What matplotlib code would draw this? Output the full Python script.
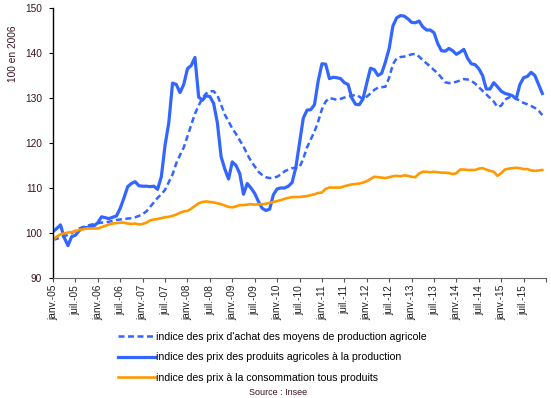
import matplotlib
matplotlib.use("Agg")
import matplotlib.pyplot as plt

plt.rcParams['font.family'] = ['Liberation Sans', 'DejaVu Sans']

# monthly indices, janv. 2005 -> déc. 2015 (base 100 en 2006)
achat = [98.5, 98.7, 99.0, 99.3, 99.6, 100.0, 100.5, 101.0, 101.3, 101.6, 101.8, 102.0,
         102.2, 102.3, 102.4, 102.5, 102.7, 102.9, 103.0, 103.1, 103.2, 103.3, 103.5, 103.8,
         104.2, 104.8, 105.8, 106.8, 107.8, 108.6, 109.6, 111.3, 113.0, 115.5, 117.3, 119.0,
         121.5, 124.0, 126.5, 128.3, 130.0, 131.0, 131.5, 131.5, 130.6, 128.5, 126.3, 124.8,
         123.2, 122.0, 120.6, 119.2, 117.5, 116.0, 114.8, 113.6, 112.9, 112.4, 112.2, 112.3,
         112.5, 113.0, 113.7, 114.1, 114.4, 114.5, 114.6, 116.5, 119.0, 120.8, 122.5, 124.8,
         127.5, 129.2, 130.0, 129.8, 129.6, 129.8, 130.1, 130.3, 130.5, 130.7, 130.3, 129.7,
         130.3, 131.0, 131.8, 132.3, 132.4, 132.5, 134.5, 137.5, 138.8, 139.1, 139.2, 139.4,
         139.7, 139.8, 139.2, 138.4, 137.7, 137.0, 136.2, 135.5, 134.5, 133.5, 133.3, 133.4,
         133.6, 133.9, 134.2, 134.1, 133.8, 133.2, 132.4, 131.6, 130.8, 130.0, 129.2, 128.0,
         128.3, 129.6, 130.1, 130.3, 129.9, 129.3, 128.9, 128.6, 128.2, 127.8, 127.2, 126.2]

produits = [100.3, 101.0, 101.8, 99.0, 97.2, 99.2, 99.5, 100.5, 101.2, 101.2, 101.4, 101.6,
            102.3, 103.6, 103.4, 103.2, 103.5, 103.8, 105.5, 107.8, 110.3, 111.0, 111.4, 110.5,
            110.4, 110.4, 110.3, 110.4, 109.7, 112.5, 119.5, 124.5, 133.3, 133.0, 131.2, 133.0,
            136.5, 137.2, 139.0, 130.2, 129.5, 130.5, 130.3, 128.8, 124.5, 117.0, 114.2, 112.0,
            115.8, 115.0, 113.2, 108.6, 111.0, 110.0, 108.8, 107.0, 105.5, 105.0, 105.3, 108.5,
            109.8, 110.0, 110.0, 110.4, 111.2, 114.5, 120.0, 125.5, 127.3, 127.4, 128.5, 133.8,
            137.6, 137.5, 134.3, 134.6, 134.5, 134.3, 133.4, 133.0, 130.0, 128.6, 128.5, 129.8,
            133.3, 136.6, 136.3, 135.0, 135.5, 138.0, 141.0, 146.0, 147.8, 148.3, 148.2, 147.6,
            146.8, 146.7, 147.1, 145.8, 145.1, 145.1, 144.5, 142.1, 140.5, 140.4, 141.0, 140.5,
            139.7, 140.2, 140.8, 138.8, 137.6, 137.4, 136.5, 135.0, 132.0, 132.0, 133.4, 132.5,
            131.5, 131.0, 130.8, 130.5, 129.8, 133.0, 134.5, 134.8, 135.7, 135.0, 133.0, 131.0]

conso = [98.5, 99.2, 99.7, 99.9, 100.1, 100.2, 100.4, 100.7, 100.8, 101.0, 101.0, 101.0,
         101.0, 101.3, 101.6, 101.9, 102.1, 102.2, 102.3, 102.3, 102.1, 102.0, 102.1, 101.9,
         102.0, 102.3, 102.8, 103.0, 103.1, 103.3, 103.5, 103.6, 103.8, 104.1, 104.5, 104.8,
         104.9, 105.4, 106.0, 106.6, 106.9, 107.0, 106.9, 106.8, 106.6, 106.4, 106.1, 105.8,
         105.7, 105.9, 106.2, 106.2, 106.3, 106.4, 106.3, 106.4, 106.4, 106.5, 106.7, 106.9,
         107.1, 107.3, 107.6, 107.8, 108.0, 108.0, 108.0, 108.1, 108.2, 108.4, 108.6, 108.9,
         109.0, 109.8, 110.1, 110.1, 110.1, 110.1, 110.4, 110.6, 110.8, 110.9, 111.0, 111.2,
         111.5, 112.0, 112.5, 112.4, 112.3, 112.2, 112.4, 112.6, 112.7, 112.6, 112.8, 112.7,
         112.5, 112.4, 113.2, 113.6, 113.6, 113.5, 113.6, 113.5, 113.4, 113.4, 113.3, 113.1,
         113.3, 114.1, 114.1, 114.0, 114.0, 114.0, 114.3, 114.4, 114.1, 113.8, 113.6, 112.7,
         113.3, 114.1, 114.3, 114.4, 114.5, 114.4, 114.2, 114.2, 113.9, 113.8, 113.9, 114.0]

years = [f"{y:02d}" for y in range(5, 16)]
tick_labels = [f"{m}-{y}" for y in years for m in ("janv.", "juil.")]

labels = ["indice des prix d'achat des moyens de production agricole",
          "indice des prix des produits agricoles à la production",
          "indice des prix à la consommation tous produits"]

blue = '#3366ff'
orange = '#ff9900'

fig = plt.figure(figsize=(5.51, 3.98), dpi=100)
ax = fig.add_axes([0.0962, 0.3015, 0.8948, 0.6785])

months = range(len(produits))
ax.plot(months, achat, color=blue, lw=1.8, ls=(0, (2.4, 1.4)), label=labels[0])
ax.plot(months, produits, color=blue, lw=2.3, label=labels[1])
ax.plot(months, conso, color=orange, lw=1.9, label=labels[2])

ax.set_xlim(0, 132)
ax.set_ylim(90, 150)
ax.set_yticks(range(90, 151, 10))
ax.set_xticks(list(range(0, 132, 6)) + [132])
ax.set_xticklabels(tick_labels + [""], rotation=90, fontsize=7.3, color='#222222')
ax.tick_params(axis='y', labelsize=7.3, labelcolor='#3a1420', length=3, pad=5)
ax.tick_params(axis='x', length=3, pad=2, color='#555555')

for s in ('top', 'right'):
    ax.spines[s].set_visible(False)
ax.spines['left'].set_color('black')
ax.spines['left'].set_linewidth(1.0)
ax.spines['bottom'].set_color('#666666')

fig.text(0.0236, 0.864, "100 en 2006", rotation=90, ha='center', va='center',
         fontsize=7.3, color='#3a1420')

fig.legend(loc='upper left', bbox_to_anchor=(0.214, 0.166), frameon=False,
           fontsize=7.6, handlelength=3.5, handletextpad=0.15, labelspacing=0.98,
           borderaxespad=0, borderpad=0)

fig.text(0.505, 0.015, "Source : Insee", ha='center', va='center', fontsize=6.5,
         color='#3a1420')

fig.savefig("out.png", dpi=100)
